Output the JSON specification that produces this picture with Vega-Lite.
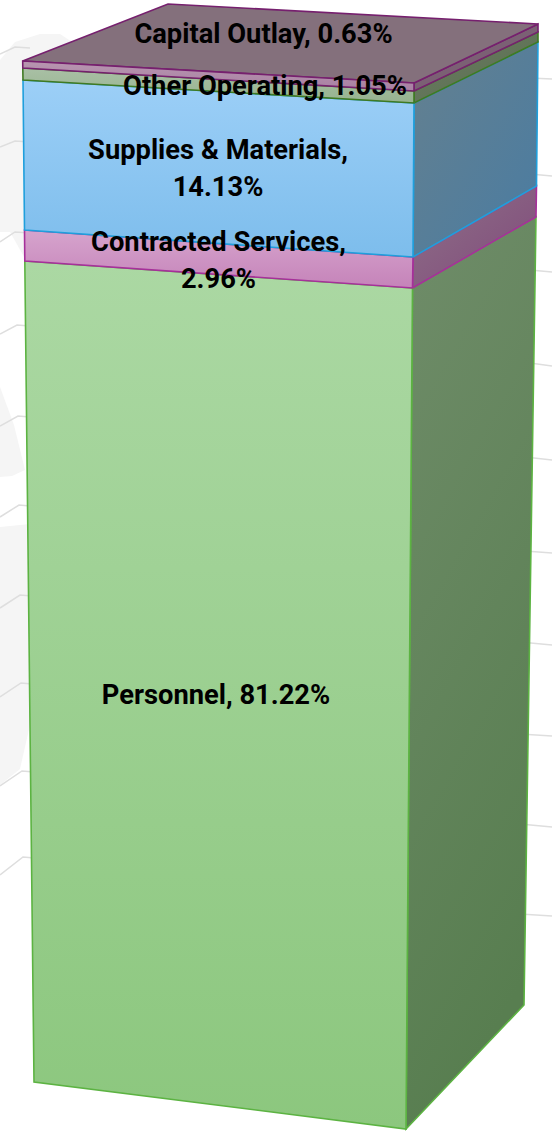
{"$schema":"https://vega.github.io/schema/vega-lite/v6.json","width":552,"height":1132,"autosize":{"type":"none"},"padding":0,"background":"white","config":{"view":{"stroke":null}},
"datasets":{
"ghost":[
{"g":"a","c":1,"x":0,"y":60},{"g":"a","c":2,"x":15,"y":42},{"g":"a","c":3,"x":40,"y":34},{"g":"a","c":4,"x":60,"y":34},{"g":"a","c":5,"x":72,"y":42},{"g":"a","c":6,"x":30,"y":80},{"g":"a","c":7,"x":27,"y":262},{"g":"a","c":8,"x":10,"y":232},{"g":"a","c":9,"x":0,"y":232},
{"g":"b","c":1,"x":0,"y":387},{"g":"b","c":2,"x":14,"y":425},{"g":"b","c":3,"x":25,"y":470},{"g":"b","c":4,"x":12,"y":476},{"g":"b","c":5,"x":0,"y":477},
{"g":"c","c":1,"x":0,"y":527},{"g":"c","c":2,"x":30,"y":524},{"g":"c","c":3,"x":30,"y":725},{"g":"c","c":4,"x":20,"y":769},{"g":"c","c":5,"x":0,"y":785}],
"grid":[
{"g":"L1","c":1,"x":0,"y":54},{"g":"L1","c":2,"x":15,"y":47},{"g":"L1","c":3,"x":30,"y":48},
{"g":"L2","c":1,"x":0,"y":147},{"g":"L2","c":2,"x":15,"y":141},{"g":"L2","c":3,"x":30,"y":142},
{"g":"L3","c":1,"x":0,"y":242},{"g":"L3","c":2,"x":15,"y":232},{"g":"L3","c":3,"x":30,"y":233},
{"g":"L4","c":1,"x":0,"y":334},{"g":"L4","c":2,"x":17,"y":325},{"g":"L4","c":3,"x":30,"y":326},
{"g":"L5","c":1,"x":0,"y":426},{"g":"L5","c":2,"x":18,"y":416},{"g":"L5","c":3,"x":30,"y":417},
{"g":"L6","c":1,"x":0,"y":517},{"g":"L6","c":2,"x":19,"y":505},{"g":"L6","c":3,"x":30,"y":506},
{"g":"L7","c":1,"x":0,"y":608},{"g":"L7","c":2,"x":20,"y":595},{"g":"L7","c":3,"x":32,"y":596},
{"g":"L8","c":1,"x":0,"y":697},{"g":"L8","c":2,"x":21,"y":683},{"g":"L8","c":3,"x":32,"y":684},
{"g":"L9","c":1,"x":0,"y":786},{"g":"L9","c":2,"x":22,"y":771},{"g":"L9","c":3,"x":34,"y":772},
{"g":"L10","c":1,"x":0,"y":875},{"g":"L10","c":2,"x":23,"y":857},{"g":"L10","c":3,"x":34,"y":858},
{"g":"R1","c":1,"x":530,"y":78},{"g":"R1","c":2,"x":552,"y":79},
{"g":"R2","c":1,"x":530,"y":174},{"g":"R2","c":2,"x":552,"y":176},
{"g":"R3","c":1,"x":530,"y":270},{"g":"R3","c":2,"x":552,"y":272},
{"g":"R4","c":1,"x":530,"y":363},{"g":"R4","c":2,"x":552,"y":366},
{"g":"R5","c":1,"x":525,"y":457},{"g":"R5","c":2,"x":552,"y":460},
{"g":"R6","c":1,"x":525,"y":551},{"g":"R6","c":2,"x":552,"y":553},
{"g":"R7","c":1,"x":520,"y":642},{"g":"R7","c":2,"x":552,"y":645},
{"g":"R8","c":1,"x":520,"y":734},{"g":"R8","c":2,"x":552,"y":736},
{"g":"R9","c":1,"x":520,"y":824},{"g":"R9","c":2,"x":552,"y":827},
{"g":"R10","c":1,"x":520,"y":914},{"g":"R10","c":2,"x":552,"y":916}],
"faces":[
{"face":"Personnel side","series":"Personnel","c":1,"x":412.5,"y":288},{"face":"Personnel side","series":"Personnel","c":2,"x":536,"y":217},{"face":"Personnel side","series":"Personnel","c":3,"x":524,"y":1005},{"face":"Personnel side","series":"Personnel","c":4,"x":406,"y":1129},
{"face":"Contracted side","series":"Contracted Services","c":1,"x":413,"y":257},{"face":"Contracted side","series":"Contracted Services","c":2,"x":536.5,"y":186},{"face":"Contracted side","series":"Contracted Services","c":3,"x":536,"y":217},{"face":"Contracted side","series":"Contracted Services","c":4,"x":412.5,"y":288},
{"face":"Supplies side","series":"Supplies & Materials","c":1,"x":414,"y":103},{"face":"Supplies side","series":"Supplies & Materials","c":2,"x":538,"y":42},{"face":"Supplies side","series":"Supplies & Materials","c":3,"x":536.5,"y":186},{"face":"Supplies side","series":"Supplies & Materials","c":4,"x":413,"y":257},
{"face":"Other side","series":"Other Operating","c":1,"x":414,"y":91},{"face":"Other side","series":"Other Operating","c":2,"x":538,"y":32},{"face":"Other side","series":"Other Operating","c":3,"x":538,"y":42},{"face":"Other side","series":"Other Operating","c":4,"x":414,"y":103},
{"face":"Capital side","series":"Capital Outlay","c":1,"x":414,"y":83},{"face":"Capital side","series":"Capital Outlay","c":2,"x":538,"y":24},{"face":"Capital side","series":"Capital Outlay","c":3,"x":538,"y":32},{"face":"Capital side","series":"Capital Outlay","c":4,"x":414,"y":91},
{"face":"Capital top","series":"Capital Outlay","c":1,"x":22.7,"y":61},{"face":"Capital top","series":"Capital Outlay","c":2,"x":168,"y":4},{"face":"Capital top","series":"Capital Outlay","c":3,"x":538,"y":24},{"face":"Capital top","series":"Capital Outlay","c":4,"x":414,"y":83},
{"face":"Personnel front","series":"Personnel","c":1,"x":24.8,"y":261},{"face":"Personnel front","series":"Personnel","c":2,"x":412.5,"y":288},{"face":"Personnel front","series":"Personnel","c":3,"x":406,"y":1129},{"face":"Personnel front","series":"Personnel","c":4,"x":34,"y":1082},
{"face":"Contracted front","series":"Contracted Services","c":1,"x":24.5,"y":230},{"face":"Contracted front","series":"Contracted Services","c":2,"x":413,"y":257},{"face":"Contracted front","series":"Contracted Services","c":3,"x":412.5,"y":288},{"face":"Contracted front","series":"Contracted Services","c":4,"x":24.8,"y":261},
{"face":"Supplies front","series":"Supplies & Materials","c":1,"x":23,"y":80},{"face":"Supplies front","series":"Supplies & Materials","c":2,"x":414,"y":103},{"face":"Supplies front","series":"Supplies & Materials","c":3,"x":413,"y":257},{"face":"Supplies front","series":"Supplies & Materials","c":4,"x":24.5,"y":230},
{"face":"Other front","series":"Other Operating","c":1,"x":22.8,"y":68},{"face":"Other front","series":"Other Operating","c":2,"x":414,"y":91},{"face":"Other front","series":"Other Operating","c":3,"x":414,"y":103},{"face":"Other front","series":"Other Operating","c":4,"x":23,"y":80},
{"face":"Capital front","series":"Capital Outlay","c":1,"x":22.7,"y":61},{"face":"Capital front","series":"Capital Outlay","c":2,"x":414,"y":83},{"face":"Capital front","series":"Capital Outlay","c":3,"x":414,"y":91},{"face":"Capital front","series":"Capital Outlay","c":4,"x":22.8,"y":68}],
"labels":[
{"label":"Capital Outlay, 0.63%","x":263.5,"y":35},
{"label":"Other Operating, 1.05%","x":265,"y":87},
{"label":"Supplies & Materials,\n14.13%","x":218,"y":151},
{"label":"Contracted Services,\n2.96%","x":218.5,"y":243},
{"label":"Personnel, 81.22%","x":216,"y":696}]},
"encoding":{
"x":{"field":"x","type":"quantitative","axis":null,"scale":{"domain":[0,552],"nice":false,"zero":false}},
"y":{"field":"y","type":"quantitative","axis":null,"scale":{"domain":[1132,0],"nice":false,"zero":false}}},
"layer":[
{"data":{"name":"ghost"},"mark":{"type":"line","interpolate":"linear-closed","fill":"#f5f5f5","strokeWidth":0},"encoding":{"detail":{"field":"g"},"order":{"field":"c"}}},
{"data":{"name":"grid"},"mark":{"type":"line","stroke":"#dedede","strokeWidth":1.5},"encoding":{"detail":{"field":"g"},"order":{"field":"c"}}},
{"data":{"name":"faces"},"transform":[{"filter":{"field":"face","equal":"Personnel side"}}],"mark":{"type":"line","interpolate":"linear-closed","strokeWidth":1.6,"stroke":"#5cb342","fill":{"gradient":"linear","x1":0,"y1":0,"x2":0.25,"y2":1,"stops":[{"offset":0,"color":"#6f8c69"},{"offset":1,"color":"#587e50"}]}},"encoding":{"order":{"field":"c"}}},
{"data":{"name":"faces"},"transform":[{"filter":{"field":"face","equal":"Contracted side"}}],"mark":{"type":"line","interpolate":"linear-closed","strokeWidth":1.6,"stroke":"#a6309a","fill":{"gradient":"linear","x1":0,"y1":0,"x2":1,"y2":1,"stops":[{"offset":0,"color":"#8f7088"},{"offset":1,"color":"#7f4a7a"}]}},"encoding":{"order":{"field":"c"}}},
{"data":{"name":"faces"},"transform":[{"filter":{"field":"face","equal":"Supplies side"}}],"mark":{"type":"line","interpolate":"linear-closed","strokeWidth":1.6,"stroke":"#1f9fdc","fill":{"gradient":"linear","x1":0,"y1":0,"x2":1,"y2":1,"stops":[{"offset":0,"color":"#64808f"},{"offset":1,"color":"#4a7ca2"}]}},"encoding":{"order":{"field":"c"}}},
{"data":{"name":"faces"},"transform":[{"filter":{"field":"face","equal":"Other side"}}],"mark":{"type":"line","interpolate":"linear-closed","strokeWidth":1.6,"stroke":"#3f7a22","fill":{"gradient":"linear","x1":0,"y1":0,"x2":1,"y2":1,"stops":[{"offset":0,"color":"#6a7a62"},{"offset":1,"color":"#5a7050"}]}},"encoding":{"order":{"field":"c"}}},
{"data":{"name":"faces"},"transform":[{"filter":{"field":"face","equal":"Capital side"}}],"mark":{"type":"line","interpolate":"linear-closed","strokeWidth":1.6,"stroke":"#76206e","fill":"#7b6074"},"encoding":{"order":{"field":"c"}}},
{"data":{"name":"faces"},"transform":[{"filter":{"field":"face","equal":"Capital top"}}],"mark":{"type":"line","interpolate":"linear-closed","strokeWidth":1.6,"stroke":"#76206e","fill":"#84707c"},"encoding":{"order":{"field":"c"}}},
{"data":{"name":"faces"},"transform":[{"filter":{"field":"face","equal":"Personnel front"}}],"mark":{"type":"line","interpolate":"linear-closed","strokeWidth":1.6,"stroke":"#5cb342","fill":{"gradient":"linear","x1":0,"y1":0,"x2":0,"y2":1,"stops":[{"offset":0,"color":"#abd8a3"},{"offset":1,"color":"#8cc77e"}]}},"encoding":{"order":{"field":"c"}}},
{"data":{"name":"faces"},"transform":[{"filter":{"field":"face","equal":"Contracted front"}}],"mark":{"type":"line","interpolate":"linear-closed","strokeWidth":1.6,"stroke":"#a6309a","fill":{"gradient":"linear","x1":0,"y1":0,"x2":0,"y2":1,"stops":[{"offset":0,"color":"#d6a4cd"},{"offset":1,"color":"#c583b9"}]}},"encoding":{"order":{"field":"c"}}},
{"data":{"name":"faces"},"transform":[{"filter":{"field":"face","equal":"Supplies front"}}],"mark":{"type":"line","interpolate":"linear-closed","strokeWidth":1.6,"stroke":"#1f9fdc","fill":{"gradient":"linear","x1":0,"y1":0,"x2":0,"y2":1,"stops":[{"offset":0,"color":"#9ccff7"},{"offset":1,"color":"#7dbdec"}]}},"encoding":{"order":{"field":"c"}}},
{"data":{"name":"faces"},"transform":[{"filter":{"field":"face","equal":"Other front"}}],"mark":{"type":"line","interpolate":"linear-closed","strokeWidth":1.6,"stroke":"#3f7a22","fill":{"gradient":"linear","x1":0,"y1":0,"x2":0,"y2":1,"stops":[{"offset":0,"color":"#a9c0a5"},{"offset":1,"color":"#96b38f"}]}},"encoding":{"order":{"field":"c"}}},
{"data":{"name":"faces"},"transform":[{"filter":{"field":"face","equal":"Capital front"}}],"mark":{"type":"line","interpolate":"linear-closed","strokeWidth":1.6,"stroke":"#76206e","fill":{"gradient":"linear","x1":0,"y1":0,"x2":0,"y2":1,"stops":[{"offset":0,"color":"#b896b0"},{"offset":1,"color":"#a87fa2"}]}},"encoding":{"order":{"field":"c"}}},
{"data":{"name":"labels"},"mark":{"type":"text","font":"Roboto","fontWeight":"bold","fontSize":27.3,"color":"black","lineBreak":"\n","lineHeight":37,"align":"center","baseline":"middle"},"encoding":{"text":{"field":"label"}}}
]}
